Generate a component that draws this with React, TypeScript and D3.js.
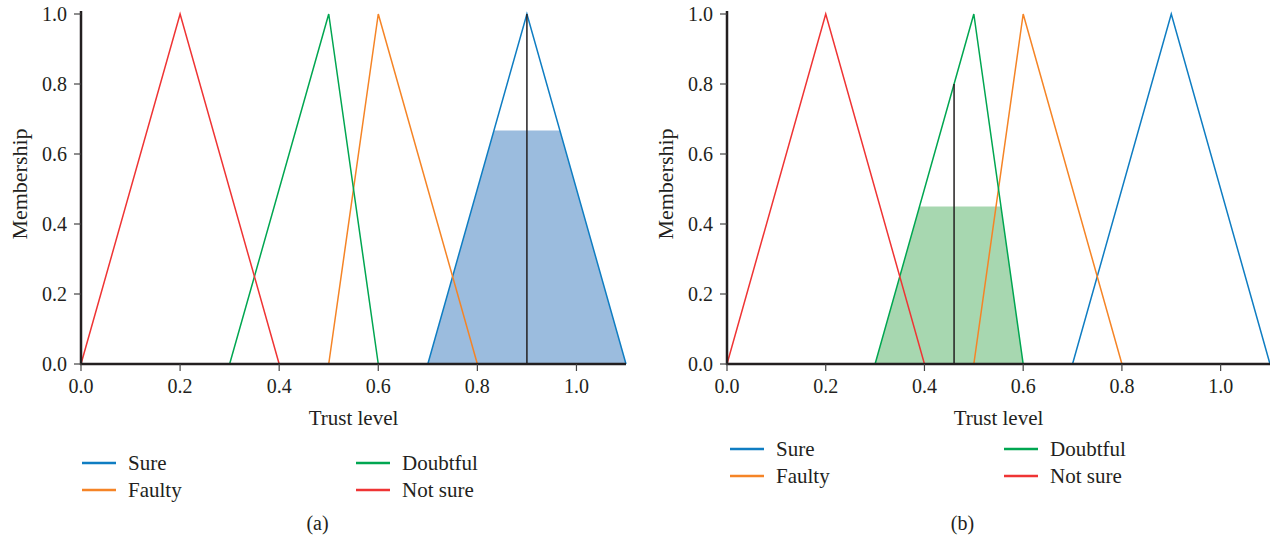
import React from "react";
import * as d3 from "d3";

// ---- data ----
const categories = ["Sure", "Faulty", "Doubtful", "Not sure"];
const colors = ["#0f7dc2", "#f58426", "#00a651", "#ef3434"];
// triangular membership functions [start, peak, end]
const sureMF = [0.7, 0.9, 1.1];
const faultyMF = [0.5, 0.6, 0.8];
const doubtfulMF = [0.3, 0.5, 0.6];
const notSureMF = [0.0, 0.2, 0.4];
const mfs = [sureMF, faultyMF, doubtfulMF, notSureMF];

const xTicks = [0.0, 0.2, 0.4, 0.6, 0.8, 1.0];
const yTicks = [0.0, 0.2, 0.4, 0.6, 0.8, 1.0];
const xDomain = [0, 1.1];

// panel (a): activated "Sure" clipped at 0.667, crisp output 0.9
// panel (b): activated "Doubtful" clipped at 0.45, crisp output 0.46
const panelLabels = ["(a)", "(b)"];
const activeIndex = [0, 2];
const clipLevel = [0.667, 0.45];
const crispValue = [0.9, 0.46];
const fillColors = ["#9bbcde", "#a7d7b0"];
const fullDomainLines = [false, true];

const FONT = "'Liberation Serif', 'Times New Roman', 'DejaVu Serif', serif";
const TEXT = "#231f20";

function tri(mf: number[], x: number) {
  const [a, b, c] = mf;
  if (x <= a || x >= c) return 0;
  if (x <= b) return (x - a) / (b - a);
  return (c - x) / (c - b);
}

type PanelProps = {
  idx: number;
  x0: number;
  x1: number;
  legendY: number;
  legendX: [number, number];
};

const textStyle = { fontFamily: FONT } as React.CSSProperties;

function Panel({ idx, x0, x1, legendY, legendX }: PanelProps) {
  const x = d3.scaleLinear().domain(xDomain).range([x0, x1]);
  const y = d3.scaleLinear().domain([0, 1]).range([364, 14]);
  const line = d3
    .line<[number, number]>()
    .x((d) => x(d[0]))
    .y((d) => y(d[1]));

  const act = activeIndex[idx];
  const mf = mfs[act];
  const clip = clipLevel[idx];
  const [a, b, c] = mf;
  const xl = a + clip * (b - a);
  const xr = c - clip * (c - b);
  const area = d3
    .area<[number, number]>()
    .x((d) => x(d[0]))
    .y0(y(0))
    .y1((d) => y(d[1]));
  const fillPts: [number, number][] = [
    [a, 0],
    [xl, clip],
    [xr, clip],
    [c, 0],
  ];

  const crisp = crispValue[idx];
  const crispTop = tri(mf, crisp);

  return (
    <g>
      <path d={area(fillPts) || ""} fill={fillColors[idx]} />
      {mfs.map((m, i) => {
        const pts: [number, number][] = fullDomainLines[idx]
          ? [
              [xDomain[0], 0],
              [m[0], 0],
              [m[1], 1],
              [m[2], 0],
              [xDomain[1], 0],
            ]
          : [
              [m[0], 0],
              [m[1], 1],
              [m[2], 0],
            ];
        return (
          <path
            key={i}
            d={line(pts) || ""}
            fill="none"
            stroke={colors[i]}
            strokeWidth={1.5}
          />
        );
      })}
      <line
        x1={x(crisp)}
        x2={x(crisp)}
        y1={y(0)}
        y2={y(crispTop)}
        stroke={TEXT}
        strokeWidth={1.5}
      />
      {/* axes */}
      <line x1={x0} x2={x0} y1={11} y2={y(0) + 1} stroke={TEXT} strokeWidth={2.5} />
      <line x1={x0 - 1} x2={x1} y1={y(0)} y2={y(0)} stroke={TEXT} strokeWidth={2.5} />
      {yTicks.map((t) => (
        <g key={"y" + t}>
          <line x1={x0 - 7} x2={x0} y1={y(t)} y2={y(t)} stroke="#444" strokeWidth={1.2} />
          <text
            x={x0 - 14}
            y={y(t)}
            dy="0.35em"
            textAnchor="end"
            style={textStyle}
            fontSize={20}
            fill={TEXT}
          >
            {t.toFixed(1)}
          </text>
        </g>
      ))}
      {xTicks.map((t) => (
        <g key={"x" + t}>
          <line x1={x(t)} x2={x(t)} y1={y(0)} y2={y(0) + 7} stroke="#444" strokeWidth={1.2} />
          <text
            x={x(t)}
            y={393}
            textAnchor="middle"
            style={textStyle}
            fontSize={20}
            fill={TEXT}
          >
            {t.toFixed(1)}
          </text>
        </g>
      ))}
      <text
        x={(x0 + x1) / 2}
        y={425}
        textAnchor="middle"
        style={textStyle}
        fontSize={21}
        fill={TEXT}
      >
        Trust level
      </text>
      <text
        transform={`translate(${x0 - 54},${(y(0) + y(1)) / 2 - 5}) rotate(-90)`}
        textAnchor="middle"
        style={textStyle}
        fontSize={22}
        fill={TEXT}
      >
        Membership
      </text>
      {/* legend */}
      {categories.map((cat, i) => {
        const col = i === 0 || i === 1 ? 0 : 1;
        const row = i === 0 || i === 2 ? 0 : 1;
        const lx = legendX[col];
        const ly = legendY + row * 27;
        return (
          <g key={cat}>
            <line x1={lx} x2={lx + 34} y1={ly} y2={ly} stroke={colors[i]} strokeWidth={2.5} />
            <text
              x={lx + 46}
              y={ly}
              dy="0.33em"
              style={textStyle}
              fontSize={21}
              fill={TEXT}
            >
              {cat}
            </text>
          </g>
        );
      })}
      <text
        x={(x0 + x1) / 2 - 36}
        y={530}
        textAnchor="middle"
        style={textStyle}
        fontSize={20}
        fill={TEXT}
      >
        {panelLabels[idx]}
      </text>
    </g>
  );
}

export default function App() {
  return (
    <svg
      width={1270}
      height={542}
      style={{ position: "absolute", left: 0, top: 0, background: "#fff" }}
    >
      <rect width={1270} height={542} fill="#fff" />
      <Panel idx={0} x0={81} x1={626} legendY={463} legendX={[82, 356]} />
      <Panel idx={1} x0={727} x1={1270} legendY={449} legendX={[730, 1004]} />
    </svg>
  );
}
